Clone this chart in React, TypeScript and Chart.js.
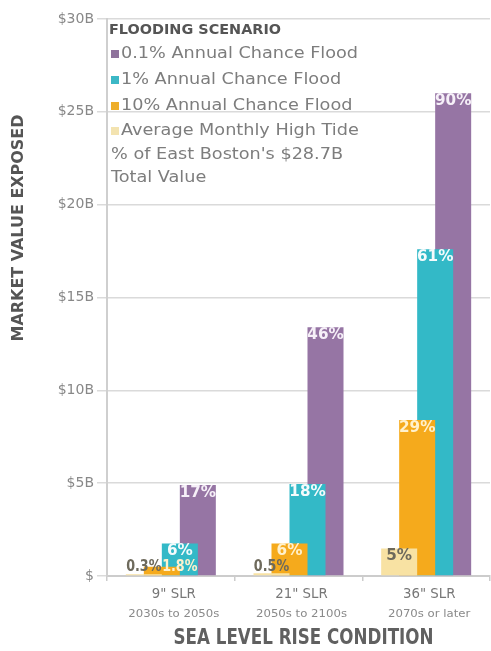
import React, { useEffect, useRef } from 'react';
import { Chart, registerables } from 'chart.js';

Chart.register(...registerables);

// ---------- data ----------
const categories = ['9" SLR', '21" SLR', '36" SLR'];
const categoryPeriods = ['2030s to 2050s', '2050s to 2100s', '2070s or later'];

// order left-to-right inside each group
const seriesNames = [
  'Average Monthly High Tide',
  '10% Annual Chance Flood',
  '1% Annual Chance Flood',
  '0.1% Annual Chance Flood',
];
const tideValues = [0.09, 0.15, 1.48];
const flood10Values = [0.5, 1.75, 8.4];
const flood1Values = [1.75, 4.95, 17.6];
const flood01Values = [4.9, 13.4, 26.0];

const tideLabels = ['0.3%', '0.5%', '5%'];
const flood10Labels = ['1.8%', '6%', '29%'];
const flood1Labels = ['6%', '18%', '61%'];
const flood01Labels = ['17%', '46%', '90%'];

const yTickValues = [0, 5, 10, 15, 20, 25, 30];
const legendTitle = 'FLOODING SCENARIO';
const legendNote = ["% of East Boston's $28.7B", 'Total Value'];
const yTitle = 'MARKET VALUE EXPOSED';
const xTitle = 'SEA LEVEL RISE CONDITION';

// ---------- styles ----------
const colors = ['#f8e2a3', '#f5aa1c', '#33b9c7', '#9675a4'];
const legendSwatch = ['#f3e3b0', '#eeae2a', '#3cb8c6', '#8f739c'];
const labelColors = ['#6e6a5c', '#fff1cc', '#f4fbfc', '#f6f0f8'];
const FONT = "'DejaVu Sans', 'Open Sans', sans-serif";

function drawText(
  ctx: CanvasRenderingContext2D,
  s: string,
  x: number,
  y: number,
  font: string,
  color: string,
  align: CanvasTextAlign,
  sx: number,
  rotate?: number,
) {
  ctx.save();
  ctx.font = font;
  ctx.fillStyle = color;
  ctx.textAlign = align;
  ctx.textBaseline = 'middle';
  ctx.translate(x, y);
  if (rotate) ctx.rotate(rotate);
  ctx.scale(sx, 1);
  ctx.fillText(s, 0, 0);
  ctx.restore();
}

function scaleFor(ctx: CanvasRenderingContext2D, s: string, font: string, target: number) {
  ctx.save();
  ctx.font = font;
  const w = ctx.measureText(s).width;
  ctx.restore();
  return w > 0 ? target / w : 1;
}

const overlayPlugin = {
  id: 'overlay',
  afterDatasetsDraw(chart: any) {
    const ctx: CanvasRenderingContext2D = chart.ctx;
    const allLabels = [tideLabels, flood10Labels, flood1Labels, flood01Labels];
    const font = `bold 16px ${FONT}`;
    for (let d = chart.data.datasets.length - 1; d >= 0; d--) {
      const meta = chart.getDatasetMeta(d);
      meta.data.forEach((bar: any, i: number) => {
        const p = bar.getProps(['x', 'y', 'base', 'width'], true);
        const h = 14;
        const small = p.base - p.y < h + 2;
        const cy = Math.min(p.y + 7.5, p.base - h / 2 - 1);
        // short bars behind the front series get their label nudged onto the next bar
        const x = small && d > 0 ? p.x + p.width / 2 : p.x;
        const color = small && d === 0 ? '#6e6a5c' : labelColors[d];
        const sz = small ? 0.85 : 0.95;
        drawText(ctx, allLabels[d][i], x, cy, small ? `bold 15px ${FONT}` : font, color, 'center', sz);
      });
    }
  },
  afterDraw(chart: any) {
    const ctx: CanvasRenderingContext2D = chart.ctx;
    const area = chart.chartArea;
    const xs = chart.scales.x;

    // legend
    const titleFont = `bold 14px ${FONT}`;
    drawText(ctx, legendTitle, area.left + 2, 30, titleFont, '#555555', 'left', scaleFor(ctx, legendTitle, titleFont, 172));
    const legFont = `16px ${FONT}`;
    const legScale = scaleFor(ctx, seriesNames[3], legFont, 237);
    const rowsY = [54, 80, 106, 131];
    const order = [3, 2, 1, 0];
    order.forEach((d, r) => {
      ctx.fillStyle = legendSwatch[d];
      ctx.fillRect(area.left + 4, rowsY[r] - 4, 8, 8);
      drawText(ctx, seriesNames[d], area.left + 14, rowsY[r], legFont, '#7d7d7d', 'left', legScale);
    });
    const noteY = [155, 178];
    legendNote.forEach((s, k) => {
      drawText(ctx, s, area.left + 4, noteY[k], legFont, '#7d7d7d', 'left', legScale);
    });

    // y title
    const yFont = `bold 16px ${FONT}`;
    drawText(ctx, yTitle, 19, 228, yFont, '#555555', 'center', scaleFor(ctx, yTitle, yFont, 227), -Math.PI / 2);

    // x category labels
    const mainFont = `14px ${FONT}`;
    const mainScale = scaleFor(ctx, categories[0], mainFont, 44);
    const subFont = `11px ${FONT}`;
    const subScale = scaleFor(ctx, categoryPeriods[0], subFont, 91);
    categories.forEach((c, i) => {
      const x = xs.getPixelForTick(i) + 3;
      drawText(ctx, c, x, 594, mainFont, '#777777', 'center', mainScale);
      drawText(ctx, categoryPeriods[i], x, 614, subFont, '#8a8a8a', 'center', subScale);
    });

    // x title
    const xFont = `bold 22px ${FONT}`;
    drawText(ctx, xTitle, (area.left + area.right) / 2 + 5, 638, xFont, '#606060', 'center', scaleFor(ctx, xTitle, xFont, 260));
  },
};

export default function App() {
  const canvasRef = useRef<HTMLCanvasElement | null>(null);

  useEffect(() => {
    if (!canvasRef.current) return;
    const chart = new Chart(canvasRef.current, {
      type: 'bar',
      data: {
        labels: categories,
        datasets: [
          { label: seriesNames[0], data: tideValues, backgroundColor: colors[0] },
          { label: seriesNames[1], data: flood10Values, backgroundColor: colors[1] },
          { label: seriesNames[2], data: flood1Values, backgroundColor: colors[2] },
          { label: seriesNames[3], data: flood01Values, backgroundColor: colors[3] },
        ],
      },
      options: {
        animation: false,
        responsive: false,
        maintainAspectRatio: false,
        devicePixelRatio: 1,
        layout: { padding: { top: 19, right: 1, left: 0, bottom: 0 } },
        datasets: {
          bar: { categoryPercentage: 0.564, barPercentage: 2.0, borderWidth: 0 },
        },
        plugins: {
          legend: { display: false },
          tooltip: { enabled: false },
          title: { display: false },
        },
        scales: {
          x: {
            grid: {
              display: true,
              drawOnChartArea: false,
              drawTicks: true,
              tickLength: 5,
              color: '#cccccc',
              lineWidth: 1.5,
              offset: true,
            },
            border: { display: true, color: '#cccccc', width: 2 },
            ticks: { display: false },
            afterFit: (s: any) => {
              s.height = 75;
            },
          },
          y: {
            min: 0,
            max: 30,
            afterBuildTicks: (s: any) => {
              s.ticks = yTickValues.map((v) => ({ value: v }));
            },
            ticks: {
              padding: 3,
              color: '#888888',
              font: { family: FONT, size: 14 },
              callback: (v: any) => (Number(v) === 0 ? '$' : `$${v}B`),
            },
            grid: { color: '#dadada', lineWidth: 1.5, tickLength: 10 },
            border: { display: true, color: '#cfcfcf', width: 2 },
            afterFit: (s: any) => {
              s.width = 107;
            },
          },
        },
      },
      plugins: [overlayPlugin],
    });
    return () => chart.destroy();
  }, []);

  return (
    <div style={{ position: 'fixed', left: 0, top: 0, width: 491, height: 651, background: '#ffffff' }}>
      <canvas ref={canvasRef} width={491} height={651} style={{ display: 'block', width: 491, height: 651 }} />
    </div>
  );
}
